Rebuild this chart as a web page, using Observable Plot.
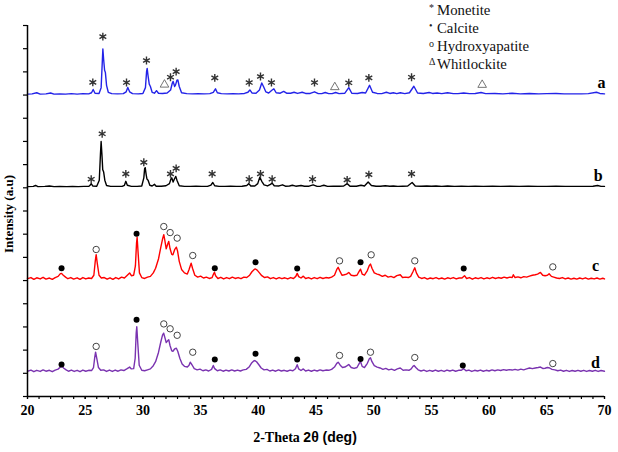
<!DOCTYPE html>
<html>
<head>
<meta charset="utf-8">
<script src="https://cdn.jsdelivr.net/npm/d3@7"></script>
<script src="https://cdn.jsdelivr.net/npm/@observablehq/plot@0.6"></script>
<style>
  body { margin: 0; background: #fff; }
  #wrap { position: relative; width: 618px; height: 452px; overflow: hidden; }
  #legend { position: absolute; left: 0; top: 0; font-family: "Liberation Serif", "Times New Roman", serif; color: #111; }
  .lg-row { position: absolute; font-size: 14.8px; line-height: 18px; white-space: nowrap; }
  .lg-sym { position: absolute; font-size: 10px; line-height: 10px; color: #222; }
</style>
</head>
<body>
<div id="wrap"><div id="chart"></div><div id="legend"></div></div>
<script>
// XRD patterns of four samples (a–d), stacked with vertical offsets.
const sampleNames = ["a", "b", "c", "d"];
const sampleColors = ["#2323e8", "#000000", "#ff0000", "#7a33b0"];
const sampleOffsets = [13.02, 9.03, 5.03, 1.05];
const sampleLabelPos = [[69.74, 13.51], [69.45, 9.53], [69.22, 5.62], [69.22, 1.44]];

// [2θ, relative intensity]
const patternA = [[20,0.02],[20.4,0.03],[20.8,0.08],[21.1,0.02],[21.6,0.03],[22,0.07],[22.3,0.02],[22.8,0.03],[23.3,0.02],[23.8,0.04],[24.3,0.02],[24.8,0.04],[25.3,0.03],[25.55,0.08],[25.69,0.22],[25.85,0.06],[26.2,0.05],[26.38,0.3],[26.48,1.4],[26.53,1.97],[26.6,1.5],[26.68,1.05],[26.75,0.95],[26.85,0.4],[27.0,0.1],[27.3,0.04],[27.8,0.03],[28.3,0.04],[28.55,0.12],[28.69,0.31],[28.85,0.12],[29.1,0.04],[29.6,0.03],[30.0,0.05],[30.22,0.3],[30.32,1.0],[30.37,1.13],[30.45,0.8],[30.55,0.45],[30.65,0.35],[30.8,0.1],[31.0,0.06],[31.18,0.17],[31.35,0.06],[31.7,0.05],[32.1,0.07],[32.4,0.2],[32.55,0.5],[32.62,0.57],[32.75,0.35],[32.83,0.42],[32.95,0.62],[33.03,0.63],[33.15,0.35],[33.35,0.08],[33.8,0.04],[34.3,0.03],[34.8,0.04],[35.3,0.03],[35.8,0.04],[36.1,0.1],[36.29,0.25],[36.45,0.08],[36.8,0.04],[37.3,0.03],[37.8,0.04],[38.3,0.03],[38.8,0.05],[39.1,0.1],[39.27,0.2],[39.45,0.07],[39.8,0.06],[40.1,0.2],[40.3,0.5],[40.45,0.35],[40.65,0.12],[40.9,0.07],[41.2,0.2],[41.35,0.25],[41.55,0.08],[41.9,0.06],[42.2,0.14],[42.45,0.06],[42.8,0.06],[43.1,0.1],[43.4,0.05],[43.8,0.1],[44.1,0.05],[44.5,0.05],[44.87,0.12],[45.2,0.04],[45.5,0.04],[45.8,0.09],[46.1,0.04],[46.4,0.04],[46.7,0.09],[47.0,0.04],[47.5,0.06],[47.84,0.3],[48.1,0.06],[48.6,0.05],[49.0,0.09],[49.3,0.07],[49.64,0.4],[49.9,0.1],[50.3,0.05],[50.7,0.04],[51.1,0.1],[51.4,0.05],[51.7,0.08],[52.0,0.04],[52.3,0.08],[52.7,0.04],[53.1,0.08],[53.48,0.36],[53.8,0.07],[54.3,0.05],[54.8,0.09],[55.1,0.05],[55.5,0.07],[55.9,0.04],[56.4,0.08],[56.9,0.04],[57.3,0.04],[57.8,0.07],[58.3,0.04],[58.8,0.05],[59.3,0.09],[59.7,0.04],[60.5,0.05],[61.2,0.03],[62.0,0.06],[62.7,0.03],[63.5,0.05],[64.3,0.03],[65.0,0.04],[65.8,0.05],[66.5,0.03],[67.3,0.03],[68.0,0.03],[68.6,0.04],[69.3,0.1],[69.6,0.05],[70,0.03]];

const patternB = [[20,0.02],[20.5,0.03],[20.7,0.07],[20.9,0.02],[21.5,0.03],[21.9,0.05],[22.3,0.02],[22.8,0.03],[23.4,0.02],[23.9,0.03],[24.4,0.02],[24.9,0.03],[25.3,0.03],[25.42,0.08],[25.52,0.15],[25.65,0.05],[26.0,0.04],[26.22,0.3],[26.32,1.4],[26.38,1.97],[26.45,1.4],[26.52,0.75],[26.6,0.65],[26.7,0.3],[26.85,0.07],[27.2,0.03],[27.7,0.03],[28.2,0.03],[28.4,0.08],[28.52,0.25],[28.65,0.08],[29.0,0.03],[29.5,0.03],[29.9,0.05],[30.08,0.4],[30.15,0.8],[30.2,0.84],[30.28,0.55],[30.35,0.35],[30.45,0.3],[30.6,0.08],[30.8,0.05],[31.0,0.12],[31.15,0.04],[31.6,0.04],[32.0,0.06],[32.3,0.15],[32.43,0.35],[32.5,0.4],[32.62,0.22],[32.73,0.35],[32.85,0.46],[32.95,0.3],[33.15,0.06],[33.6,0.03],[34.1,0.03],[34.6,0.04],[35.1,0.03],[35.6,0.03],[35.9,0.09],[36.06,0.2],[36.22,0.06],[36.6,0.03],[37.1,0.03],[37.6,0.04],[38.1,0.03],[38.6,0.04],[39.0,0.07],[39.18,0.15],[39.35,0.05],[39.7,0.05],[39.95,0.15],[40.13,0.43],[40.3,0.25],[40.5,0.1],[40.8,0.05],[41.05,0.12],[41.2,0.17],[41.38,0.06],[41.8,0.05],[42.1,0.1],[42.35,0.04],[42.7,0.05],[42.95,0.08],[43.25,0.04],[43.7,0.07],[44.0,0.04],[44.4,0.04],[44.75,0.1],[45.1,0.03],[45.4,0.04],[45.68,0.08],[46.0,0.03],[46.5,0.04],[47.0,0.04],[47.4,0.05],[47.7,0.15],[47.95,0.04],[48.5,0.04],[48.9,0.08],[49.2,0.05],[49.52,0.22],[49.8,0.07],[50.2,0.04],[50.6,0.04],[51.0,0.06],[51.4,0.04],[51.7,0.05],[52.1,0.03],[52.5,0.04],[52.95,0.05],[53.33,0.2],[53.6,0.05],[54.1,0.04],[54.6,0.05],[55.0,0.04],[55.4,0.05],[55.9,0.03],[56.4,0.05],[57.0,0.03],[57.6,0.04],[58.2,0.03],[58.8,0.04],[59.5,0.03],[60.3,0.04],[61.0,0.03],[61.8,0.04],[62.6,0.03],[63.4,0.04],[64.2,0.03],[65.0,0.03],[65.8,0.04],[66.6,0.03],[67.5,0.03],[68.3,0.03],[69.0,0.04],[69.4,0.07],[69.7,0.03],[70,0.03]];

const patternC = [[20,0.05],[20.3,0.1],[20.55,0.02],[20.8,0.09],[21.1,0.04],[21.35,0.11],[21.6,0.03],[21.9,0.08],[22.15,0.02],[22.4,0.1],[22.65,0.15],[22.85,0.27],[22.95,0.28],[23.1,0.2],[23.3,0.12],[23.5,0.05],[23.75,0.1],[24.0,0.03],[24.3,0.09],[24.55,0.02],[24.8,0.1],[25.05,0.04],[25.3,0.08],[25.55,0.06],[25.75,0.2],[25.87,0.8],[25.95,1.09],[26.05,0.7],[26.2,0.2],[26.4,0.08],[26.65,0.1],[26.9,0.03],[27.15,0.09],[27.4,0.02],[27.65,0.1],[27.9,0.04],[28.15,0.12],[28.4,0.08],[28.65,0.2],[28.85,0.3],[29.0,0.18],[29.2,0.2],[29.35,0.6],[29.45,1.6],[29.5,1.84],[29.58,1.2],[29.7,0.3],[29.9,0.1],[30.15,0.06],[30.4,0.12],[30.65,0.15],[30.9,0.3],[31.1,0.5],[31.35,0.9],[31.55,1.4],[31.72,1.8],[31.81,1.95],[31.9,1.7],[32.02,1.34],[32.15,1.55],[32.24,1.66],[32.35,1.35],[32.5,1.1],[32.6,1.08],[32.75,1.3],[32.9,1.41],[33.0,1.25],[33.15,0.8],[33.35,0.45],[33.6,0.3],[33.85,0.25],[34.0,0.45],[34.18,0.72],[34.3,0.5],[34.5,0.2],[34.75,0.12],[35.0,0.16],[35.25,0.08],[35.5,0.12],[35.75,0.06],[36.0,0.1],[36.12,0.25],[36.2,0.33],[36.3,0.18],[36.5,0.06],[36.75,0.11],[37.0,0.04],[37.25,0.1],[37.5,0.05],[37.75,0.12],[38.0,0.06],[38.25,0.1],[38.5,0.05],[38.75,0.12],[39.0,0.1],[39.25,0.2],[39.45,0.35],[39.65,0.45],[39.75,0.47],[39.9,0.42],[40.1,0.3],[40.3,0.18],[40.55,0.1],[40.8,0.13],[41.05,0.05],[41.3,0.1],[41.55,0.04],[41.8,0.1],[42.05,0.05],[42.3,0.09],[42.55,0.04],[42.8,0.1],[43.05,0.06],[43.25,0.15],[43.37,0.28],[43.5,0.14],[43.7,0.08],[43.9,0.16],[44.1,0.06],[44.35,0.1],[44.6,0.04],[44.85,0.1],[45.1,0.05],[45.35,0.11],[45.6,0.06],[45.85,0.1],[46.1,0.08],[46.35,0.12],[46.6,0.2],[46.8,0.45],[46.92,0.54],[47.05,0.4],[47.25,0.2],[47.45,0.22],[47.65,0.25],[47.84,0.32],[48.05,0.2],[48.3,0.18],[48.55,0.2],[48.75,0.38],[48.86,0.46],[49.0,0.25],[49.2,0.2],[49.45,0.4],[49.62,0.62],[49.72,0.68],[49.85,0.5],[50.05,0.3],[50.3,0.25],[50.5,0.22],[50.75,0.15],[51.0,0.2],[51.25,0.12],[51.5,0.15],[51.75,0.1],[52.0,0.18],[52.3,0.22],[52.5,0.1],[52.75,0.12],[53.0,0.1],[53.2,0.15],[53.4,0.35],[53.56,0.52],[53.7,0.3],[53.9,0.12],[54.15,0.06],[54.4,0.1],[54.65,0.03],[54.9,0.08],[55.15,0.05],[55.4,0.1],[55.65,0.04],[55.9,0.08],[56.15,0.03],[56.4,0.09],[56.65,0.05],[56.9,0.1],[57.15,0.04],[57.4,0.08],[57.65,0.08],[57.87,0.18],[58.05,0.06],[58.3,0.1],[58.55,0.03],[58.8,0.09],[59.05,0.05],[59.3,0.1],[59.55,0.04],[59.8,0.09],[60.05,0.05],[60.3,0.11],[60.55,0.06],[60.8,0.1],[61.05,0.07],[61.3,0.12],[61.55,0.08],[61.8,0.12],[62.0,0.1],[62.1,0.22],[62.25,0.1],[62.5,0.13],[62.75,0.09],[63.0,0.14],[63.25,0.12],[63.5,0.16],[63.75,0.2],[64.0,0.22],[64.2,0.25],[64.45,0.32],[64.65,0.2],[64.85,0.18],[65.05,0.2],[65.2,0.26],[65.4,0.15],[65.6,0.12],[65.85,0.08],[66.1,0.06],[66.35,0.1],[66.6,0.04],[66.85,0.08],[67.1,0.03],[67.35,0.07],[67.6,0.03],[67.85,0.08],[68.1,0.04],[68.35,0.09],[68.6,0.03],[68.85,0.07],[69.1,0.04],[69.35,0.08],[69.6,0.03],[69.85,0.07],[70,0.04]];

const patternD = [[20,0.04],[20.3,0.09],[20.55,0.02],[20.8,0.08],[21.1,0.03],[21.35,0.1],[21.6,0.04],[21.9,0.08],[22.15,0.02],[22.4,0.09],[22.65,0.13],[22.85,0.22],[23.0,0.25],[23.15,0.17],[23.35,0.1],[23.55,0.04],[23.8,0.09],[24.05,0.03],[24.3,0.08],[24.55,0.02],[24.8,0.09],[25.05,0.04],[25.3,0.08],[25.55,0.07],[25.72,0.2],[25.83,0.65],[25.9,0.86],[26.0,0.6],[26.15,0.2],[26.35,0.08],[26.6,0.1],[26.85,0.03],[27.1,0.09],[27.35,0.03],[27.6,0.09],[27.85,0.04],[28.1,0.1],[28.35,0.07],[28.6,0.14],[28.85,0.22],[29.0,0.14],[29.2,0.15],[29.33,0.6],[29.42,1.7],[29.47,1.96],[29.55,1.3],[29.68,0.3],[29.9,0.08],[30.15,0.06],[30.4,0.1],[30.65,0.14],[30.9,0.28],[31.1,0.45],[31.35,0.85],[31.55,1.3],[31.7,1.6],[31.8,1.68],[31.9,1.5],[32.02,1.28],[32.15,1.35],[32.24,1.4],[32.35,1.15],[32.5,0.92],[32.6,0.9],[32.75,1.0],[32.9,1.03],[33.02,0.9],[33.2,0.6],[33.4,0.35],[33.6,0.25],[33.85,0.22],[34.0,0.3],[34.1,0.43],[34.25,0.32],[34.45,0.15],[34.7,0.1],[34.95,0.13],[35.2,0.06],[35.45,0.1],[35.7,0.05],[35.95,0.12],[36.1,0.29],[36.22,0.15],[36.45,0.06],[36.7,0.1],[36.95,0.04],[37.2,0.09],[37.45,0.05],[37.7,0.1],[37.95,0.05],[38.2,0.09],[38.45,0.05],[38.7,0.1],[38.95,0.12],[39.2,0.22],[39.4,0.38],[39.6,0.48],[39.7,0.5],[39.85,0.45],[40.05,0.32],[40.25,0.18],[40.5,0.1],[40.75,0.12],[41.0,0.05],[41.25,0.09],[41.5,0.04],[41.75,0.1],[42.0,0.05],[42.25,0.08],[42.5,0.04],[42.75,0.09],[43.0,0.06],[43.22,0.15],[43.37,0.32],[43.5,0.14],[43.7,0.07],[43.9,0.14],[44.1,0.05],[44.35,0.09],[44.6,0.04],[44.85,0.09],[45.1,0.05],[45.35,0.1],[45.6,0.06],[45.85,0.09],[46.1,0.08],[46.35,0.12],[46.6,0.22],[46.8,0.38],[46.92,0.43],[47.1,0.3],[47.3,0.2],[47.5,0.22],[47.7,0.28],[47.84,0.33],[48.05,0.2],[48.3,0.16],[48.55,0.2],[48.75,0.38],[48.86,0.46],[49.0,0.25],[49.2,0.2],[49.45,0.38],[49.62,0.58],[49.72,0.62],[49.85,0.45],[50.05,0.28],[50.3,0.22],[50.55,0.18],[50.8,0.12],[51.05,0.16],[51.3,0.1],[51.55,0.13],[51.8,0.08],[52.05,0.14],[52.3,0.18],[52.55,0.08],[52.8,0.1],[53.05,0.08],[53.25,0.14],[53.4,0.25],[53.5,0.29],[53.65,0.2],[53.85,0.1],[54.1,0.05],[54.35,0.09],[54.6,0.03],[54.85,0.08],[55.1,0.04],[55.35,0.09],[55.6,0.04],[55.85,0.08],[56.1,0.03],[56.35,0.09],[56.6,0.05],[56.85,0.09],[57.1,0.04],[57.35,0.08],[57.6,0.08],[57.8,0.15],[58.0,0.06],[58.25,0.09],[58.5,0.03],[58.75,0.08],[59.0,0.05],[59.25,0.09],[59.5,0.04],[59.75,0.08],[60.0,0.05],[60.25,0.1],[60.5,0.06],[60.75,0.1],[61.0,0.07],[61.25,0.11],[61.5,0.08],[61.75,0.11],[62.0,0.09],[62.25,0.12],[62.5,0.09],[62.75,0.13],[63.0,0.1],[63.25,0.14],[63.5,0.18],[63.75,0.15],[64.0,0.18],[64.25,0.2],[64.45,0.22],[64.65,0.16],[64.85,0.17],[65.05,0.2],[65.25,0.18],[65.45,0.12],[65.7,0.1],[65.95,0.06],[66.2,0.09],[66.45,0.04],[66.7,0.08],[66.95,0.03],[67.2,0.07],[67.45,0.04],[67.7,0.08],[67.95,0.04],[68.2,0.08],[68.45,0.03],[68.7,0.07],[68.95,0.04],[69.2,0.08],[69.45,0.03],[69.7,0.07],[70,0.04]];

// Phase markers placed above the identified reflections: [2θ, stacked y]
const monetiteMarks = [[25.66,13.55],[26.53,15.52],[28.58,13.54],[30.31,14.49],[32.39,13.77],[32.88,14.01],[36.23,13.74],[39.21,13.54],[40.19,13.8],[41.14,13.54],[44.87,13.54],[47.84,13.53],[49.58,13.74],[53.28,13.77],
  [25.52,9.37],[26.47,11.33],[28.52,9.6],[30.08,10.1],[32.39,9.6],[32.88,9.84],[36.0,9.6],[39.21,9.37],[40.19,9.6],[41.2,9.37],[44.7,9.37],[47.7,9.34],[49.58,9.57],[53.28,9.6]];
const calciteMarks = [[22.95,5.53],[29.45,7.02],[36.23,5.53],[39.76,5.79],[43.37,5.52],[48.86,5.79],[57.8,5.52],
  [22.95,1.38],[29.45,3.31],[36.23,1.6],[39.76,1.84],[43.37,1.6],[48.86,1.62],[57.72,1.34]];
const hydroxyapatiteMarks = [[25.95,6.34],[31.81,7.33],[32.36,7.07],[32.97,6.83],[34.32,6.08],[47.04,5.85],[49.78,6.11],[53.56,5.85],[65.52,5.59],
  [25.95,2.16],[31.81,3.13],[32.36,2.92],[32.97,2.64],[34.32,1.91],[47.04,1.77],[49.72,1.91],[53.56,1.68],[65.52,1.42]];
const whitlockiteMarks = [[31.87,13.45],[46.63,13.34],[59.4,13.44]];

// Legend entries
const legendSymbols = ["*", "•", "o", "Δ"];
const legendLabels = ["Monetite", "Calcite", "Hydroxyapatite", "Whitlockite"];

const xMin = 20, xMax = 70, yMax = 16;
const xMinorTicks = d3.range(xMin, xMax + 1, 1);
const xMajorTicks = d3.range(xMin, xMax + 1, 5);
const yTicks = d3.range(0, yMax + 1, 1);

const patterns = [patternA, patternB, patternC, patternD];
const rows = patterns.flatMap((pts, i) =>
  pts.map(([t, v]) => ({theta: t, y: sampleOffsets[i] + v, sample: sampleNames[i]})));
const toPts = arr => arr.map(([t, y]) => ({theta: t, y}));
const labels = sampleNames.map((n, i) => ({name: n, theta: sampleLabelPos[i][0], y: sampleLabelPos[i][1]}));

const serif = "'Liberation Serif', 'Times New Roman', serif";

const chart = Plot.plot({
  width: 618,
  height: 452,
  marginLeft: 27,
  marginRight: 14,
  marginTop: 25,
  marginBottom: 56,
  style: {fontFamily: serif, background: "#fff", overflow: "visible"},
  x: {domain: [xMin, xMax], axis: null},
  y: {domain: [0, yMax], axis: null},
  color: {domain: sampleNames, range: sampleColors},
  marks: [
    Plot.line(rows, {x: "theta", y: "y", z: "sample", stroke: "sample", strokeWidth: 1.4, strokeLinejoin: "round"}),
    Plot.dot(toPts(monetiteMarks), {x: "theta", y: "y", symbol: "asterisk", r: 3.7, stroke: "#333", strokeWidth: 1.4}),
    Plot.dot(toPts(calciteMarks), {x: "theta", y: "y", symbol: "circle", r: 3, fill: "#000", stroke: "none"}),
    Plot.dot(toPts(hydroxyapatiteMarks), {x: "theta", y: "y", symbol: "circle", r: 3.2, fill: "none", stroke: "#444", strokeWidth: 1}),
    Plot.dot(toPts(whitlockiteMarks), {x: "theta", y: "y", symbol: "triangle", r: 3.2, fill: "none", stroke: "#666", strokeWidth: 0.9}),
    Plot.text(labels, {x: "theta", y: "y", text: "name", fontSize: 16, fontWeight: "bold", fill: "#000"}),
    Plot.ruleY([0], {stroke: "#000", strokeWidth: 1.5}),
    Plot.ruleX([xMin], {stroke: "#000", strokeWidth: 1.5}),
    Plot.axisX({ticks: xMinorTicks, tickSize: 3, tickFormat: () => "", label: null, strokeWidth: 1.2}),
    Plot.axisX({ticks: xMajorTicks, tickSize: 3, tickPadding: 6, label: null, fontSize: 14, fontWeight: "bold", strokeWidth: 1.2}),
    Plot.axisY({ticks: yTicks, tickSize: 4, tickFormat: () => "", label: null, strokeWidth: 1.2})
  ]
});
document.getElementById("chart").appendChild(chart);

// Axis titles
const svg = d3.select(chart);
const xt = svg.append("text")
  .attr("x", 305).attr("y", 442)
  .attr("text-anchor", "middle")
  .attr("font-size", 14).attr("font-weight", "bold").attr("fill", "#000");
xt.append("tspan").attr("font-family", serif).text("2-Theta ");
xt.append("tspan").attr("font-family", "'Liberation Sans Narrow', 'Liberation Sans', Arial, sans-serif").text("2θ (deg)");

svg.append("text")
  .attr("transform", "translate(13,214) rotate(-90)")
  .attr("text-anchor", "middle")
  .attr("font-family", serif)
  .attr("font-size", 13).attr("font-weight", "bold").attr("fill", "#000")
  .text("Intensity (a.u)");

// Phase legend, top right
const legend = document.getElementById("legend");
legendLabels.forEach((lab, i) => {
  const top = 1 + i * 18;
  const sym = document.createElement("div");
  sym.className = "lg-sym";
  sym.style.left = "429px";
  sym.style.top = (top + 2) + "px";
  sym.textContent = legendSymbols[i];
  const row = document.createElement("div");
  row.className = "lg-row";
  row.style.left = "437px";
  row.style.top = top + "px";
  row.textContent = lab;
  legend.appendChild(sym);
  legend.appendChild(row);
});
</script>
</body>
</html>
